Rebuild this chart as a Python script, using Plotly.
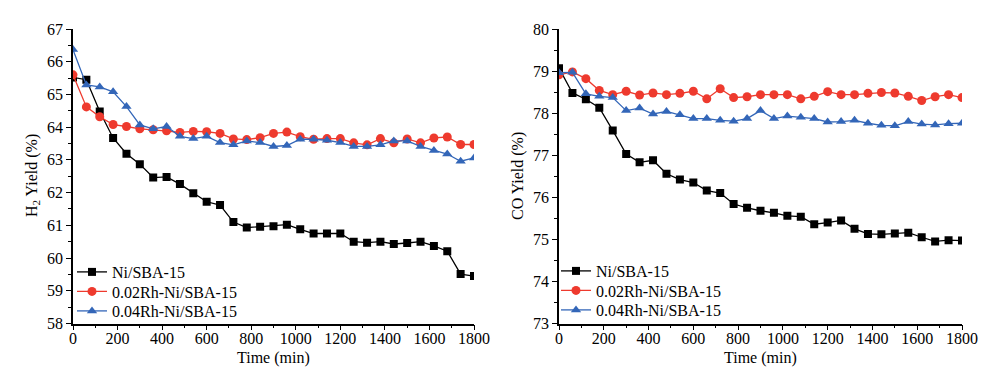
import plotly.graph_objects as go

time_min = [0, 60, 120, 180, 240, 300, 360, 420, 480, 540, 600, 660, 720, 780, 840, 900,
            960, 1020, 1080, 1140, 1200, 1260, 1320, 1380, 1440, 1500, 1560, 1620, 1680, 1740, 1800]

series_names = ["Ni/SBA-15", "0.02Rh-Ni/SBA-15", "0.04Rh-Ni/SBA-15"]

h2_ni = [65.52, 65.45, 64.48, 63.67, 63.19, 62.87, 62.46, 62.48, 62.26, 61.98, 61.72, 61.62,
         61.10, 60.93, 60.96, 60.97, 61.02, 60.88, 60.75, 60.75, 60.75, 60.50, 60.47, 60.50,
         60.43, 60.46, 60.50, 60.37, 60.21, 59.51, 59.45]
h2_rh02 = [65.60, 64.62, 64.32, 64.08, 64.02, 63.95, 63.92, 63.89, 63.84, 63.87, 63.86, 63.81,
           63.64, 63.62, 63.68, 63.81, 63.85, 63.71, 63.63, 63.65, 63.65, 63.52, 63.46, 63.65,
           63.52, 63.64, 63.52, 63.67, 63.70, 63.47, 63.47]
h2_rh04 = [66.37, 65.29, 65.23, 65.08, 64.63, 64.07, 63.95, 64.02, 63.72, 63.65, 63.72, 63.53,
           63.46, 63.58, 63.53, 63.41, 63.44, 63.63, 63.63, 63.60, 63.53, 63.41, 63.41, 63.46,
           63.58, 63.58, 63.41, 63.29, 63.18, 62.96, 63.06]

co_ni = [79.07, 78.48, 78.33, 78.13, 77.59, 77.03, 76.83, 76.88, 76.56, 76.42, 76.35, 76.16,
         76.10, 75.84, 75.75, 75.68, 75.63, 75.56, 75.54, 75.36, 75.40, 75.45, 75.25, 75.13,
         75.12, 75.14, 75.16, 75.05, 74.95, 74.98, 74.97]
co_rh02 = [78.91, 78.98, 78.82, 78.54, 78.44, 78.52, 78.43, 78.48, 78.44, 78.47, 78.52, 78.34,
           78.58, 78.37, 78.39, 78.44, 78.44, 78.44, 78.34, 78.40, 78.51, 78.44, 78.44, 78.47,
           78.49, 78.48, 78.40, 78.30, 78.39, 78.44, 78.37]
co_rh04 = [78.96, 78.97, 78.46, 78.40, 78.37, 78.06, 78.12, 77.98, 78.04, 77.96, 77.87, 77.87,
           77.83, 77.81, 77.87, 78.06, 77.87, 77.93, 77.90, 77.87, 77.79, 77.80, 77.83, 77.76,
           77.71, 77.70, 77.80, 77.74, 77.72, 77.75, 77.76]

x_ticks = [0, 200, 400, 600, 800, 1000, 1200, 1400, 1600, 1800]
h2_ticks = [58, 59, 60, 61, 62, 63, 64, 65, 66, 67]
co_ticks = [73, 74, 75, 76, 77, 78, 79, 80]

colors = ["#000000", "#EE3A2E", "#3366B8"]
symbols = ["square", "circle", "triangle-up"]
msizes = [8, 9, 9]

W, H = 993, 379
FONT = "Liberation Serif, Times New Roman, serif"

fig = go.Figure()

left_sets = [h2_ni, h2_rh02, h2_rh04]
right_sets = [co_ni, co_rh02, co_rh04]
for i, name in enumerate(series_names):
    fig.add_trace(go.Scatter(
        x=time_min, y=left_sets[i], name=name, mode="lines+markers",
        line=dict(color=colors[i], width=1.3),
        marker=dict(symbol=symbols[i], size=msizes[i], color=colors[i]),
        xaxis="x", yaxis="y", legend="legend" if i == 0 else f"legend{i + 1}"))
for i, name in enumerate(series_names):
    fig.add_trace(go.Scatter(
        x=time_min, y=right_sets[i], name=name, mode="lines+markers",
        line=dict(color=colors[i], width=1.3),
        marker=dict(symbol=symbols[i], size=msizes[i], color=colors[i]),
        xaxis="x2", yaxis="y2", legend=f"legend{i + 4}"))

ydom = [1 - 323.5 / H, 1 - 29 / H]
xdom1 = [73 / W, 474 / W]
xdom2 = [559 / W, 962 / W]

def xaxis(dom, anchor):
    return dict(domain=dom, anchor=anchor, range=[0, 1800], tickvals=x_ticks,
                ticktext=[str(v) for v in x_ticks], automargin=False,
                showline=True, linecolor="black", linewidth=1.5, mirror=False,
                ticks="outside", ticklen=5, tickwidth=1.2, tickcolor="black",
                ticklabelstandoff=-5,
                minor=dict(dtick=100, ticks="outside", ticklen=3, tickwidth=1.2, tickcolor="black"),
                showgrid=False, zeroline=False,
                tickfont=dict(family=FONT, size=16, color="black"))

def yaxis(dom, anchor, rng, ticks):
    return dict(domain=dom, anchor=anchor, range=rng, tickvals=ticks,
                ticktext=[str(v) for v in ticks], automargin=False,
                showline=True, linecolor="black", linewidth=1.5, mirror=False,
                ticks="outside", ticklen=5, tickwidth=1.2, tickcolor="black",
                minor=dict(dtick=0.5, ticks="outside", ticklen=3, tickwidth=1.2, tickcolor="black"),
                showgrid=False, zeroline=False,
                tickfont=dict(family=FONT, size=16, color="black"))

def legend_at(x_px, top_px):
    return dict(x=x_px / W, y=1 - top_px / H, xanchor="left", yanchor="top",
                bgcolor="rgba(0,0,0,0)", font=dict(family=FONT, size=16),
                tracegroupgap=0, itemwidth=30)

legend_tops = [255, 274.5, 294]
legends = {}
for i, top in enumerate(legend_tops):
    legends["legend" if i == 0 else f"legend{i + 1}"] = legend_at(72, top)
    legends[f"legend{i + 4}"] = legend_at(556, top - 1)

TITLE_FONT = dict(family=FONT, size=16, color="black")

fig.update_layout(
    width=W, height=H,
    margin=dict(l=0, r=0, t=0, b=0, autoexpand=False),
    paper_bgcolor="white", plot_bgcolor="white",
    font=dict(family=FONT, size=16, color="black"),
    xaxis=xaxis(xdom1, "y"),
    yaxis=yaxis(ydom, "x", [58, 67], h2_ticks),
    xaxis2=xaxis(xdom2, "y2"),
    yaxis2=yaxis(ydom, "x2", [73, 80], co_ticks),
    showlegend=True,
    annotations=[
        dict(text="H<sub>2</sub> Yield (%)", x=32 / W, y=1 - 176 / H, xref="paper", yref="paper",
             xanchor="center", yanchor="middle",
             textangle=-90, showarrow=False, font=TITLE_FONT),
        dict(text="CO Yield (%)", x=518 / W, y=1 - 176 / H, xref="paper", yref="paper",
             xanchor="center", yanchor="middle",
             textangle=-90, showarrow=False, font=TITLE_FONT),
        dict(text="Time (min)", x=273.5 / W, y=1 - 357.5 / H, xref="paper", yref="paper",
             xanchor="center", yanchor="middle",
             showarrow=False, font=TITLE_FONT),
        dict(text="Time (min)", x=760.5 / W, y=1 - 357.5 / H, xref="paper", yref="paper",
             xanchor="center", yanchor="middle",
             showarrow=False, font=TITLE_FONT),
    ],
    **legends,
)

fig.write_html("out.html", config={"displayModeBar": False},
               post_script="document.body.style.margin='0';document.body.style.overflow='hidden';")
